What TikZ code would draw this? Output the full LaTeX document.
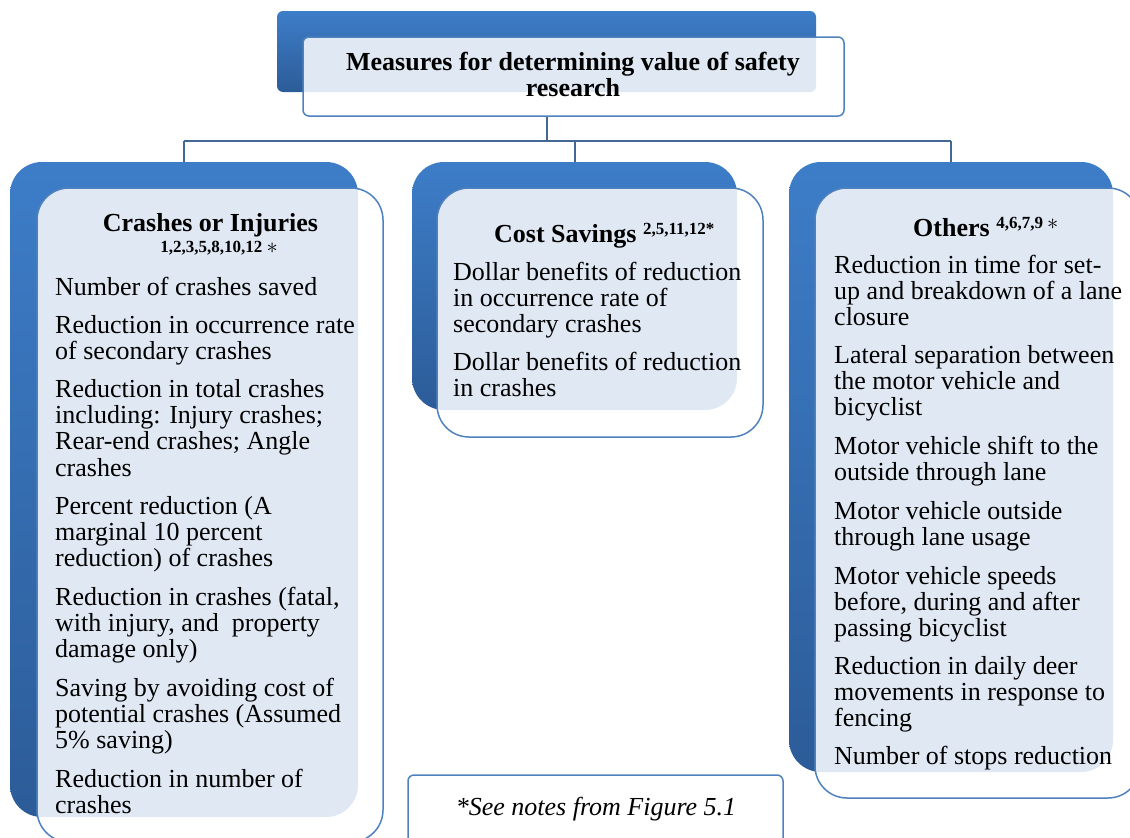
\documentclass[tikz,border=0pt]{standalone}
\usepackage{fontspec}
\setmainfont{Liberation Serif}
\definecolor{blueA}{RGB}{61,125,200}
\definecolor{blueB}{RGB}{44,92,152}
\definecolor{paleblue}{RGB}{224,232,243}
\definecolor{frontline}{RGB}{79,129,189}
\definecolor{connline}{RGB}{68,104,150}
\newcommand\mysup[1]{{\fontsize{17}{17}\selectfont\raisebox{8pt}{#1}}}
\newcommand\bigast{\raisebox{-1pt}{\scalebox{1.3}{$\ast$}}}
\begin{document}
\begin{tikzpicture}[x=1pt,y=-1pt,
  backbox/.style={anchor=north west, inner sep=0pt, outer sep=0pt, rounded corners=32pt, top color=blueA, bottom color=blueB, draw=none},
  frontbox/.style={anchor=north west, inner sep=0pt, outer sep=0pt, rounded corners=32pt, draw=frontline, line width=1.5pt, fill=white},
  conn/.style={draw=connline, line width=2pt},
  body/.style={anchor=north west, inner sep=0pt, align=left, font=\fontsize{26}{26.3}\selectfont},
  head/.style={inner sep=0pt, anchor=base, font=\bfseries\fontsize{26}{26}\selectfont},
  headw/.style={inner sep=0pt, anchor=base west, font=\bfseries\fontsize{26}{26}\selectfont},
  supline/.style={inner sep=0pt, anchor=base, font=\bfseries\fontsize{17}{17}\selectfont}
]
\useasboundingbox (0,0) rectangle (1130,838);
\clip (0,0) rectangle (1130,838);

% ---------- boxes ----------
\node[backbox, rounded corners=6pt, minimum width=539pt, minimum height=81pt] (topback) at (277,11) {};
\node[backbox, minimum width=348pt, minimum height=655pt] (crback) at (10,162) {};
\node[backbox, minimum width=325pt, minimum height=248pt] (csback) at (412,162) {};
\node[backbox, minimum width=324pt, minimum height=610pt] (otback) at (789,162) {};

% ---------- connectors ----------
\coordinate (bus) at (547,141);
\draw[conn] (topback.south) -- (topback.south |- bus);
\draw[conn] (crback.north |- bus) -- (otback.north |- bus);
\draw[conn] (crback.north |- bus) -- (crback.north);
\draw[conn] (csback.north |- bus) -- (csback.north);
\draw[conn] (otback.north |- bus) -- (otback.north);

\node[frontbox, rounded corners=6pt, minimum width=541pt, minimum height=79pt,
  path picture={\fill[paleblue, rounded corners=6pt] (topback.south west) rectangle (topback.north east);}] (topfront) at (303,37) {};
\node[frontbox, minimum width=346pt, minimum height=654pt,
  path picture={\fill[paleblue, rounded corners=32pt] (crback.south west) rectangle (crback.north east);}] (crfront) at (37,188) {};
\node[frontbox, minimum width=326pt, minimum height=249pt,
  path picture={\fill[paleblue, rounded corners=32pt] (csback.south west) rectangle (csback.north east);}] (csfront) at (437,188) {};
\node[frontbox, minimum width=325pt, minimum height=610pt,
  path picture={\fill[paleblue, rounded corners=32pt] (otback.south west) rectangle (otback.north east);}] (otfront) at (815,188) {};
\node[frontbox, rounded corners=6pt, minimum width=375pt, minimum height=70pt] (notebox) at (408,775) {};

% ---------- title ----------
\node[inner sep=0pt, anchor=north, align=center, font=\bfseries\fontsize{26}{26}\selectfont] (title) at (573,51.8)
  {\strut Measures for determining value of safety\\research};

% ---------- headings ----------
\node[head] (crhead) at (210.5,231) {Crashes or Injuries};
\node[supline] (crsup) at (219,252.5) {1,2,3,5,8,10,12 \bigast};
\node[headw] (cshead) at (494,242) {Cost Savings \mysup{2,5,11,12*}};
\node[headw] (othead) at (913,236) {Others \mysup{4,6,7,9 \bigast}};

% ---------- left column ----------
\node[body] (c1) at (55,276.6) {\strut Number of crashes saved};
\node[body] (c2) at (55,314.6) {\strut Reduction in occurrence rate\\of secondary crashes};
\node[body] (c3) at (55,378.6) {\strut Reduction in total crashes\\including: Injury crashes;\\Rear-end crashes; Angle\\crashes};
\node[body] (c4) at (55,495.6) {\strut Percent reduction (A\\marginal 10 percent\\reduction) of crashes};
\node[body] (c5) at (55,586.6) {\strut Reduction in crashes (fatal,\\with injury, and~ property\\damage only)};
\node[body] (c6) at (55,677.6) {\strut Saving by avoiding cost of\\potential crashes (Assumed\\5\% saving)};
\node[body] (c7) at (55,768.6) {\strut Reduction in number of\\crashes};

% ---------- middle column ----------
\node[body] (s1) at (453,261.6) {\strut Dollar benefits of reduction\\in occurrence rate of\\secondary crashes};
\node[body] (s2) at (453,351.6) {\strut Dollar benefits of reduction\\in crashes};

% ---------- right column ----------
\node[body] (o1) at (834,254.6) {\strut Reduction in time for set-\\up and breakdown of a lane\\closure};
\node[body] (o2) at (834,344.6) {\strut Lateral separation between\\the motor vehicle and\\bicyclist};
\node[body] (o3) at (834,435.6) {\strut Motor vehicle shift to the\\outside through lane};
\node[body] (o4) at (834,500.6) {\strut Motor vehicle outside\\through lane usage};
\node[body] (o5) at (834,565.6) {\strut Motor vehicle speeds\\before, during and after\\passing bicyclist};
\node[body] (o6) at (834,655.6) {\strut Reduction in daily deer\\movements in response to\\fencing};
\node[body] (o7) at (834,745.6) {\strut Number of stops reduction};

% ---------- note ----------
\node[inner sep=0pt, anchor=base, font=\itshape\fontsize{26}{26}\selectfont] (note) at (596,815) {*See notes from Figure 5.1};
\end{tikzpicture}
\end{document}
